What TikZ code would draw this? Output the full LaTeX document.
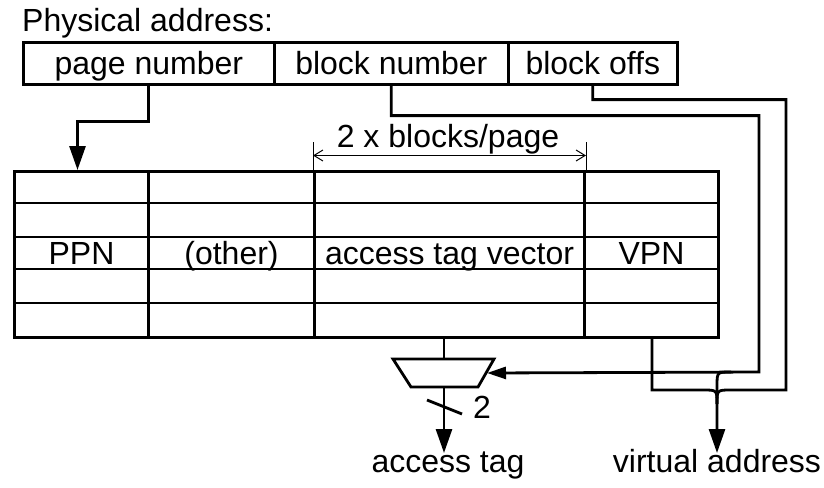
\documentclass[tikz,border=0pt]{standalone}
\usepackage{fontspec}
\setmainfont{Liberation Sans}
\usetikzlibrary{arrows.meta,calc}
\begin{document}
\begin{tikzpicture}[x=1pt,y=-1pt,
  font=\fontsize{32}{37}\selectfont,
  conn/.style={line width=2.8pt},
  arr/.style={conn,-{Triangle[length=24pt,width=16pt]}},
  sarr/.style={conn,-{Triangle[length=19pt,width=12pt]}},
  fieldbox/.style={draw,line width=2.6pt,minimum height=42pt,inner sep=0pt,
    text height=29pt,text depth=7pt,anchor=north west},
  colbox/.style={draw,line width=3pt,minimum height=166pt,inner sep=0pt,
    text height=27pt,text depth=7pt,anchor=north west},
  rowline/.style={line width=1.3pt},
  dimline/.style={line width=1pt},
  label/.style={inner sep=0pt}]
\useasboundingbox (0,0) rectangle (824,487);

% title
\node[label,anchor=base west] (title) at (22,32) {Physical address:};

% address fields
\node[fieldbox,minimum width=251pt] (pn) at (22,41) {page number};
\node[fieldbox,minimum width=234pt] (bn) at (273,41) {block number};
\node[fieldbox,minimum width=169pt] (bo) at (507,41) {block offs};

% table row lines
\foreach \yy in {203,237,269,303}
  \draw[rowline] (13,\yy) -- (717,\yy);

% table columns
\node[colbox,minimum width=134pt] (c1) at (13,170) {PPN};
\node[colbox,minimum width=166pt] (c2) at (147,170) {(other)};
\node[colbox,minimum width=270pt] (c3) at (313,170) {access tag vector};
\node[colbox,minimum width=134pt] (c4) at (583,170) {VPN};

% dimension
\draw[dimline] (c3.north west) -- ++(0,-28);
\draw[dimline] (c3.north east) -- ++(0,-28);
\draw[dimline,{Straight Barb[length=9pt,width=11pt]}-{Straight Barb[length=9pt,width=11pt]}]
  ($(c3.north west)+(0,-14.5)$) -- ($(c3.north east)+(0,-14.5)$);
\node[label,anchor=base] (dimlabel) at (448,147) {2 x blocks/page};

% mux
\coordinate (muxtop) at (444,359);
\coordinate (muxbot) at (444,387);
\coordinate (muxr) at (487,373);
\draw[conn,line join=miter] (393,359) -- (494,359) -- (478,387) -- (411,387) -- cycle;

% page number -> PPN
\draw[arr] (pn.south) -- ++(0,36) -| ($(c1.north)+(-4,0)$);

% access tag vector -> mux
\draw[conn] (muxtop |- c3.south) -- (muxtop);

% mux -> access tag
\coordinate (atip) at (444,453);
\draw[arr] (muxbot) -- (atip);
\draw[conn] (427,400) -- (462,414);
\node[label,anchor=base west] (two) at (473,418) {2};
\node[label,anchor=base] (atag) at (448,472) {access tag};

% block number -> mux and to virtual address
\coordinate (bncorner) at (759,372);
\draw[sarr] (bn.south) -- ++(0,30) -| (bncorner) -- (muxr);
\coordinate (vtip) at (717,453);
\draw[arr] (731,372) .. controls (717,372) .. (717,386) -- (vtip);

% VPN -> virtual address
\draw[conn] (652,336) -- (652,390) -- (703,390) .. controls (717,390) .. (717,404);

% block offs -> virtual address
\draw[conn] (bo.south) -- ++(0,14) -| (786,390) -- (731,390) .. controls (717,390) .. (717,404);

\node[label,anchor=base] (vaddr) at (717,472) {virtual address};
\end{tikzpicture}
\end{document}
